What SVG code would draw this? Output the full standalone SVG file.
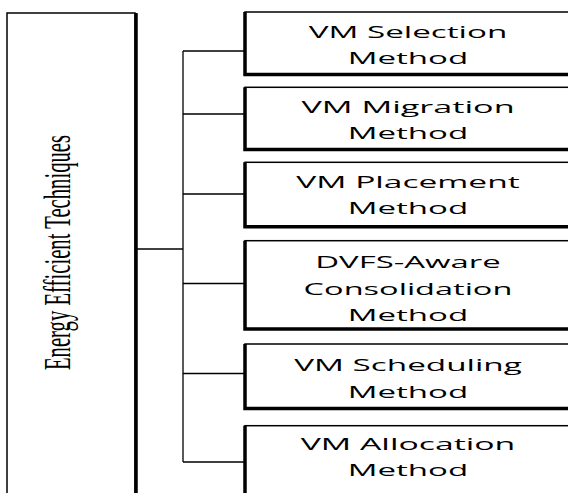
<svg xmlns="http://www.w3.org/2000/svg" width="568" height="493" viewBox="0 0 568 493">
<style>
.box{fill:#fff;stroke:#000;stroke-width:1.5}
.sh{fill:none;stroke:#000;stroke-width:3.5}
.conn{fill:none;stroke:#000;stroke-width:1.3}
.t{font-family:"Open Sans","Noto Sans",sans-serif;font-size:17px;fill:#000;text-anchor:middle}
.tl{font-family:"Liberation Serif","Times New Roman",serif;font-size:38px;fill:#000;text-anchor:middle}
</style>
<rect width="568" height="493" fill="#fff"/>
<g id="root">
<rect class="box" x="7" y="13" width="128" height="500"/>
<line class="sh" x1="136" y1="13" x2="136" y2="500"/>
<text class="tl" transform="translate(70,252.5) rotate(-90) scale(0.538,1)" x="0" y="0" textLength="437" lengthAdjust="spacingAndGlyphs">Energy Efficient Techniques</text>
</g>
<g id="connectors">
<polyline class="conn" points="137,249 183,249"/>
<line class="conn" x1="183" y1="51" x2="183" y2="462"/>
<line class="conn" x1="183" y1="51" x2="244" y2="51"/>
<line class="conn" x1="183" y1="114" x2="244" y2="114"/>
<line class="conn" x1="183" y1="194" x2="244" y2="194"/>
<line class="conn" x1="183" y1="283.5" x2="244" y2="283.5"/>
<line class="conn" x1="183" y1="373.5" x2="244" y2="373.5"/>
<line class="conn" x1="183" y1="462" x2="244" y2="462"/>
</g>
<g id="n1">
<rect class="box" x="245" y="12" width="330" height="62"/>
<polyline class="sh" points="245,12 245,74.5 575,74.5"/>
<g transform="translate(408,0) scale(1.45,1)">
<text class="t" x="0" y="38.3" textLength="137" lengthAdjust="spacingAndGlyphs">VM Selection</text>
<text class="t" x="0" y="64.3" textLength="83" lengthAdjust="spacingAndGlyphs">Method</text>
</g>
</g>
<g id="n2">
<rect class="box" x="245" y="87.3" width="330" height="62"/>
<polyline class="sh" points="245,87.3 245,149.5 575,149.5"/>
<g transform="translate(408,0) scale(1.45,1)">
<text class="t" x="0" y="113.3" textLength="147" lengthAdjust="spacingAndGlyphs">VM Migration</text>
<text class="t" x="0" y="139.3" textLength="83" lengthAdjust="spacingAndGlyphs">Method</text>
</g>
</g>
<g id="n3">
<rect class="box" x="245" y="162.3" width="330" height="64.5"/>
<polyline class="sh" points="245,162.3 245,226.8 575,226.8"/>
<g transform="translate(408,0) scale(1.45,1)">
<text class="t" x="0" y="188.3" textLength="154" lengthAdjust="spacingAndGlyphs">VM Placement</text>
<text class="t" x="0" y="214.3" textLength="83" lengthAdjust="spacingAndGlyphs">Method</text>
</g>
</g>
<g id="n4">
<rect class="box" x="245" y="240.7" width="330" height="88.3"/>
<polyline class="sh" points="245,240.7 245,329 575,329"/>
<g transform="translate(408,0) scale(1.45,1)">
<text class="t" x="0" y="268.5" textLength="128" lengthAdjust="spacingAndGlyphs">DVFS-Aware</text>
<text class="t" x="0" y="294.7" textLength="144" lengthAdjust="spacingAndGlyphs">Consolidation</text>
<text class="t" x="0" y="320.7" textLength="83" lengthAdjust="spacingAndGlyphs">Method</text>
</g>
</g>
<g id="n5">
<rect class="box" x="245" y="344" width="330" height="64.5"/>
<polyline class="sh" points="245,344 245,408.5 575,408.5"/>
<g transform="translate(408,0) scale(1.45,1)">
<text class="t" x="0" y="371.3" textLength="157" lengthAdjust="spacingAndGlyphs">VM Scheduling</text>
<text class="t" x="0" y="398" textLength="83" lengthAdjust="spacingAndGlyphs">Method</text>
</g>
</g>
<g id="n6">
<rect class="box" x="245" y="425.7" width="330" height="90"/>
<polyline class="sh" points="245,425.7 245,515"/>
<g transform="translate(408,0) scale(1.45,1)">
<text class="t" x="0" y="449.7" textLength="148" lengthAdjust="spacingAndGlyphs">VM Allocation</text>
<text class="t" x="0" y="476" textLength="83" lengthAdjust="spacingAndGlyphs">Method</text>
</g>
</g>
</svg>
